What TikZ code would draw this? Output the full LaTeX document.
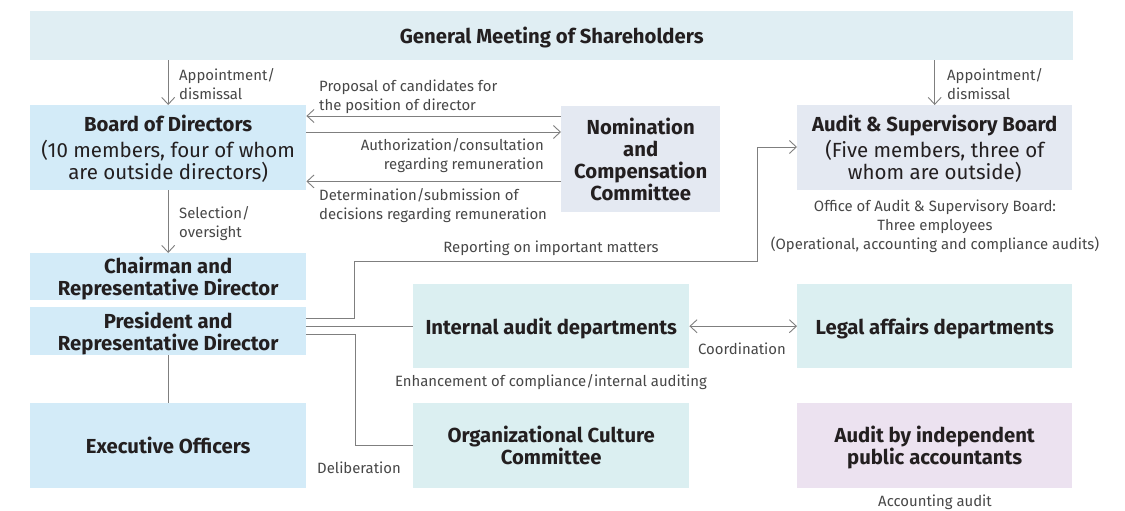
\documentclass[tikz,border=0pt]{standalone}
\usepackage{fontspec}
\setmainfont{Fira Sans}
\usetikzlibrary{arrows.meta,calc}
\definecolor{gmfill}{HTML}{E0EEF3}
\definecolor{bluefill}{HTML}{D3EBF8}
\definecolor{greyfill}{HTML}{E4E9F2}
\definecolor{cyanfill}{HTML}{DBEFF1}
\definecolor{lilacfill}{HTML}{ECE2F0}
\definecolor{linecol}{HTML}{7F7F7F}
\definecolor{titlecol}{HTML}{231F20}
\definecolor{labelcol}{HTML}{474747}
\newcommand{\subtxtsize}{\mdseries\fontsize{20.5}{21}\selectfont}
\begin{document}
\begin{tikzpicture}[x=1pt,y=-1pt,
  box/.style={anchor=north west, inner sep=0pt, align=center, text=titlecol,
    text depth=-7pt, font=\bfseries\fontsize{20.3}{22}\selectfont},
  lbl/.style={inner sep=0pt, text=labelcol, font=\fontsize{14.9}{19}\selectfont},
  conn/.style={draw=linecol, line width=0.9pt},
  arr/.style={conn, -{Straight Barb[length=7pt,width=13pt]}},
  darr/.style={conn, {Straight Barb[length=7pt,width=13pt]}-{Straight Barb[length=7pt,width=13pt]}}
]
\useasboundingbox (0,0) rectangle (1125,511);
% boxes
\node[box, fill=gmfill, minimum width=1043pt, minimum height=49pt] (gm) at (30,11) {General Meeting of Shareholders};
\node[box, fill=bluefill, minimum width=276pt, minimum height=85pt] (bod) at (30,105)
  {Board of Directors\\[4pt]\subtxtsize (10 members, four of whom\\ \subtxtsize are outside directors)};
\node[box, fill=greyfill, minimum width=159pt, minimum height=106pt] (ncc) at (561,106)
  {Nomination\\ and\\ Compensation\\ Committee};
\node[box, fill=greyfill, minimum width=275pt, minimum height=85pt] (asb) at (797,105)
  {Audit \& Supervisory Board\\[4pt]\subtxtsize (Five members, three of\\ \subtxtsize whom are outside)};
\node[box, fill=bluefill, minimum width=276pt, minimum height=47pt] (chair) at (30,253)
  {Chairman and\\ Representative Director};
\node[box, fill=bluefill, minimum width=276pt, minimum height=48pt] (pres) at (30,307)
  {President and\\ Representative Director};
\node[box, fill=bluefill, minimum width=276pt, minimum height=85pt] (exec) at (30,403)
  {Executive Officers};
\node[box, fill=cyanfill, minimum width=276pt, minimum height=84pt] (iad) at (413,284)
  {Internal audit departments};
\node[box, fill=cyanfill, minimum width=275pt, minimum height=84pt] (legal) at (797,284)
  {Legal affairs departments};
\node[box, fill=cyanfill, minimum width=276pt, minimum height=85pt] (occ) at (413,403)
  {Organizational Culture\\ Committee};
\node[box, fill=lilacfill, minimum width=275pt, minimum height=85pt] (ipa) at (797,403)
  {Audit by independent\\ public accountants};
% labels
\node[lbl, anchor=west, align=left] (lapp1) at (179,84) {Appointment/\\dismissal};
\node[lbl, anchor=west, align=left] (lapp2) at (947,84) {Appointment/\\dismissal};
\node[lbl, anchor=west, align=left] (lprop) at (319,97) {Proposal of candidates for\\the position of director};
\node[lbl, anchor=east, align=right] (lauth) at (544,156) {Authorization/consultation\\regarding remuneration};
\node[lbl, anchor=west, align=left] (ldet) at (319,206) {Determination/submission of\\decisions regarding remuneration};
\node[lbl, anchor=west, align=left] (lsel) at (179,223.5) {Selection/\\oversight};
\node[lbl] (lrep) at (551,248) {Reporting on important matters};
\node[lbl, align=center] (loff) at (935,226) {Office of Audit \& Supervisory Board:\\Three employees\\(Operational, accounting and compliance audits)};
\node[lbl] (lcoord) at (742,349) {Coordination};
\node[lbl] (lenh) at (551,382) {Enhancement of compliance/internal auditing};
\node[lbl] (ldel) at (359,468) {Deliberation};
\node[lbl] (lacc) at (935,502) {Accounting audit};
% connectors
\draw[arr] (bod.north |- gm.south) -- (bod.north);
\draw[arr] (asb.north |- gm.south) -- (asb.north);
\draw[arr] (bod.south) -- (chair.north);
\draw[conn] (pres.south) -- (exec.north);
\coordinate (n1) at ([yshift=-10pt]ncc.north west);
\coordinate (n2) at ([yshift=-26pt]ncc.north west);
\coordinate (n3) at ([yshift=31pt]ncc.south west);
\draw[arr] (n1) -- (bod.east |- n1);
\draw[arr] (bod.east |- n2) -- (n2);
\draw[arr] (n3) -- (bod.east |- n3);
\coordinate (r1) at (354,261);
\coordinate (r2) at (757,147);
\draw[arr] ([yshift=13pt]pres.east) -| (r1) -| (r2) -- (asb.west |- r2);
\draw[conn] (pres.east |- iad.west) -- (iad.west);
\draw[conn] ([yshift=-3pt]pres.east) -- ++(49,0) |- (occ.west);
\draw[darr] (iad.east) -- (legal.west);
\end{tikzpicture}
\end{document}
